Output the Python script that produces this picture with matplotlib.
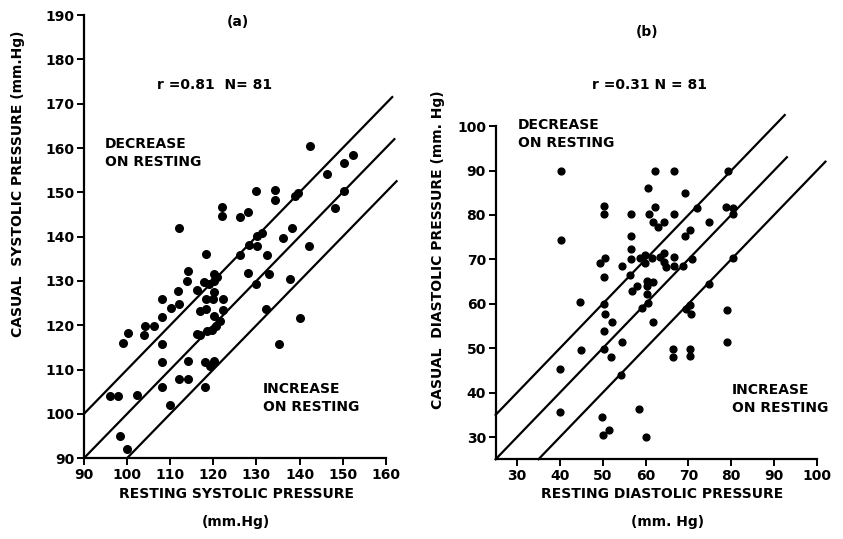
"""
Casual vs resting blood pressure: (a) systolic, (b) diastolic.
Scatter with identity line and +/-10 mm Hg bands. Saves out.png.
"""

import numpy as np
import matplotlib.pyplot as plt

plt.rcParams["font.family"] = ["DejaVu Sans"]
plt.rcParams["font.weight"] = "bold"

# (a) systolic: resting (x) vs casual (y), mm Hg
sys_rest = [142.4, 146.3, 150.3, 152.3, 150.3, 148.2, 129.9, 134.3, 134.3, 139.7,
            138.9, 122.1, 122.1, 126.2, 128.1, 112.0, 130.2, 131.2, 136.2, 138.2,
            128.2, 130.2, 126.1, 132.5, 142.2, 118.2, 128.1, 132.9, 129.9, 137.9,
            114.1, 113.9, 111.8, 112.0, 120.1, 117.8, 118.9, 120.1, 120.9, 116.2,
            120.1, 118.2, 120.0, 122.3, 122.3, 117.0, 118.2, 120.1, 121.5, 120.6,
            119.7, 118.6, 117.0, 116.2, 108.2, 110.2, 108.2, 104.2, 106.2, 104.0,
            100.2, 99.0, 108.2, 108.1, 114.1, 118.0, 120.1, 119.2, 112.1, 114.1,
            108.1, 102.2, 96.1, 97.9, 118.0, 110.0, 98.3, 100.0, 132.3, 135.2,
            140.1]
sys_casual = [160.5, 154.1, 156.7, 158.4, 150.3, 146.4, 150.3, 150.5, 148.3, 149.8,
              149.2, 146.6, 144.7, 144.5, 145.5, 142.0, 140.1, 140.9, 139.8, 142.0,
              138.1, 137.8, 135.9, 135.8, 137.8, 136.1, 131.8, 131.6, 129.4, 130.5,
              132.2, 129.9, 127.7, 124.9, 131.6, 129.7, 129.4, 129.9, 130.9, 127.9,
              127.4, 126.0, 126.0, 125.9, 123.4, 123.1, 123.7, 122.0, 121.0, 119.9,
              119.0, 118.6, 117.9, 118.1, 125.9, 123.8, 121.8, 119.9, 119.9, 117.9,
              118.2, 116.0, 115.8, 111.8, 111.9, 111.7, 111.9, 110.7, 107.8, 107.8,
              106.0, 104.3, 104.0, 104.1, 106.0, 101.9, 95.0, 92.0, 123.7, 115.8,
              121.7]

# (b) diastolic: resting (x) vs casual (y), mm Hg
dia_rest = [40.3, 40.2, 50.2, 50.2, 50.5, 49.4, 50.2, 44.8, 54.6, 56.6,
            56.6, 56.6, 56.6, 56.3, 56.8, 58.0, 60.6, 62.3, 66.6, 62.3,
            60.8, 66.6, 61.8, 63.0, 64.4, 69.3, 72.1, 69.3, 70.4, 74.7,
            78.7, 80.5, 80.5, 79.2, 58.6, 59.8, 59.8, 61.6, 63.3, 64.4,
            64.3, 64.8, 66.6, 66.6, 68.7, 70.8, 80.5, 60.3, 60.3, 61.8,
            60.3, 60.6, 59.2, 61.8, 74.7, 70.3, 69.5, 70.5, 79.1, 52.2,
            50.2, 50.5, 50.2, 54.5, 50.2, 51.9, 45.0, 40.0, 40.0, 54.3,
            49.9, 50.0, 51.4, 58.4, 60.0, 66.4, 66.4, 70.4, 70.4, 79.1]
dia_casual = [90.0, 74.4, 82.0, 80.2, 70.3, 69.1, 66.1, 60.5, 68.4, 80.2,
              75.3, 72.4, 70.1, 66.4, 62.8, 63.9, 86.0, 90.0, 90.0, 81.9,
              80.2, 80.2, 78.5, 77.2, 78.5, 85.0, 81.5, 75.3, 76.6, 78.5,
              81.7, 81.5, 80.2, 90.0, 70.3, 71.0, 69.1, 70.3, 70.6, 71.5,
              69.5, 68.2, 68.4, 70.5, 68.4, 70.1, 70.3, 65.2, 63.9, 65.0,
              62.2, 60.1, 59.0, 56.0, 64.4, 59.8, 58.8, 57.8, 58.6, 55.8,
              60.0, 57.8, 53.8, 51.4, 49.8, 48.1, 49.5, 45.4, 35.6, 43.9,
              34.4, 30.4, 31.5, 36.4, 30.0, 49.9, 48.1, 49.8, 48.3, 51.4]

sys_ticks = [90, 100, 110, 120, 130, 140, 150, 160]
sys_yticks = [90, 100, 110, 120, 130, 140, 150, 160, 170, 180, 190]
dia_xticks = [30, 40, 50, 60, 70, 80, 90, 100]
dia_yticks = [30, 40, 50, 60, 70, 80, 90, 100]

TXT = dict(fontsize=10, fontweight="bold")


def style_axes(ax):
    for s in ("top", "right"):
        ax.spines[s].set_visible(False)
    for s in ("left", "bottom"):
        ax.spines[s].set_linewidth(1.6)
    ax.tick_params(direction="out", length=5, width=1.4, labelsize=10, pad=2)
    for lab in ax.get_xticklabels() + ax.get_yticklabels():
        lab.set_fontweight("bold")


fig = plt.figure(figsize=(8.43, 5.39), dpi=100)

# ---- (a) systolic
ax1 = fig.add_axes([0.0996, 0.150, 0.358, 0.822])
ax1.set_xlim(90, 160)
ax1.set_ylim(90, 190)
ax1.set_xticks(sys_ticks)
ax1.set_yticks(sys_yticks)
for off, x0, x1 in [(10, 90, 161.5), (0, 90, 162), (-10, 100, 162.5)]:
    xs = np.array([x0, x1])
    ax1.plot(xs, xs + off, color="black", lw=1.6, clip_on=False)
ax1.scatter(sys_rest, sys_casual, s=30, color="black", zorder=3, clip_on=False)
style_axes(ax1)
ax1.text(125.7, 188.4, "(a)", ha="center", va="center", **TXT)
ax1.text(120.4, 174.2, "r =0.81  N= 81", ha="center", va="center", **TXT)
ax1.text(94.9, 162.5, "DECREASE\nON RESTING", ha="left", va="top",
         linespacing=1.35, **TXT)
ax1.text(131.5, 107.2, "INCREASE\nON RESTING", ha="left", va="top",
         linespacing=1.35, **TXT)

# ---- (b) diastolic
ax2 = fig.add_axes([0.588, 0.148, 0.381, 0.618])
ax2.set_xlim(25, 100)
ax2.set_ylim(25, 100)
ax2.set_xticks(dia_xticks)
ax2.set_yticks(dia_yticks)
for off, x0, x1 in [(10, 25, 92.5), (0, 25, 93), (-10, 35, 102)]:
    xs = np.array([x0, x1])
    ax2.plot(xs, xs + off, color="black", lw=1.6, clip_on=False)
ax2.scatter(dia_rest, dia_casual, s=24, color="black", zorder=3, clip_on=False)
style_axes(ax2)
ax2.text(60.3, 121.1, "(b)", ha="center", va="center", **TXT)
ax2.text(61.0, 109.2, "r =0.31 N = 81", ha="center", va="center", **TXT)
ax2.text(30.2, 101.8, "DECREASE\nON RESTING", ha="left", va="top",
         linespacing=1.35, **TXT)
ax2.text(80.1, 42.2, "INCREASE\nON RESTING", ha="left", va="top",
         linespacing=1.35, **TXT)

# axis titles
fig.text(0.021, 0.660, "CASUAL  SYSTOLIC PRESSURE (mm.Hg)", rotation=90,
         ha="center", va="center", **TXT)
fig.text(0.520, 0.536, "CASUAL  DIASTOLIC PRESSURE (mm. Hg)", rotation=90,
         ha="center", va="center", **TXT)
fig.text(0.280, 0.0835, "RESTING SYSTOLIC PRESSURE", ha="center", va="center", **TXT)
fig.text(0.280, 0.032, "(mm.Hg)", ha="center", va="center", **TXT)
fig.text(0.785, 0.0835, "RESTING DIASTOLIC PRESSURE", ha="center", va="center", **TXT)
fig.text(0.792, 0.032, "(mm. Hg)", ha="center", va="center", **TXT)

fig.savefig("out.png", dpi=100)
plt.close(fig)
